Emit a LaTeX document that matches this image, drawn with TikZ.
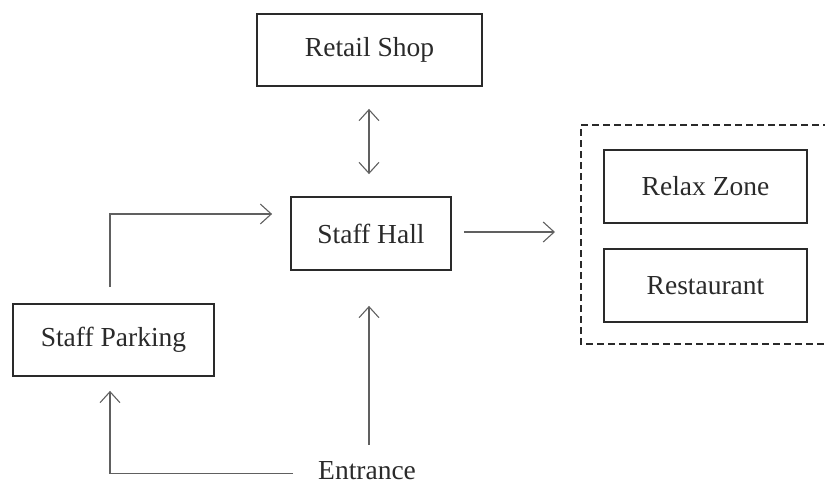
\documentclass[tikz,border=0pt]{standalone}
\usepackage{fontspec}
\setmainfont{Liberation Serif}
\usetikzlibrary{arrows.meta}

\definecolor{ink}{HTML}{2A2A2A}
\definecolor{wire}{HTML}{606060}

\tikzset{
  room/.style={draw=ink, line width=1.8pt, text=ink, inner sep=0pt,
               font=\fontsize{27.5}{30}\selectfont},
  label/.style={text=ink, inner sep=0pt, font=\fontsize{27.5}{30}\selectfont},
  flow/.style={draw=wire, line width=1.1pt,
               -{Straight Barb[length=11pt,width=20pt,line width=1.1pt]}},
  twoway/.style={draw=wire, line width=1.1pt,
               {Straight Barb[length=11pt,width=20pt,line width=1.1pt]}-{Straight Barb[length=11pt,width=20pt,line width=1.1pt]}},
  zone/.style={draw=ink, line width=1.4pt, dash pattern=on 7pt off 4pt}
}

\begin{document}
\begin{tikzpicture}[x=1pt,y=-1pt]
  \useasboundingbox (0,0) rectangle (825,483);

  % rooms
  \node[room, minimum width=225pt, minimum height=72pt] (shop)    at (369.5,50)   {Retail Shop};
  \node[room, minimum width=160pt, minimum height=73pt] (hall)    at (371,233.5)  {Staff Hall};
  \node[room, minimum width=201pt, minimum height=72pt] (parking) at (113.5,340)  {Staff Parking};
  \node[room, minimum width=203pt, minimum height=73pt] (relax)   at (705.5,186.5){Relax Zone};
  \node[room, minimum width=203pt, minimum height=73pt] (rest)    at (705.5,285.5){Restaurant};
  \node[label, anchor=base west] (entrance) at (318,479) {Entrance};

  % dashed zone around relax zone and restaurant, open to the right
  \coordinate (zoneTL) at (581,125);
  \coordinate (zoneBL) at (581,344);
  \draw[zone] (zoneTL -| 830,0) -- (zoneTL) -- (zoneBL) -- (zoneBL -| 830,0);

  % connectors
  \draw[twoway, shorten <=22pt, shorten >=22pt]
    ([xshift=-0.5pt]shop.south) -- ([xshift=-2pt]hall.north);
  \draw[flow, shorten <=12pt, shorten >=26pt]
    ([yshift=1.5pt]hall.east) -- ([yshift=1.5pt]hall.east -| zoneTL);
  \draw[flow, shorten <=16pt, shorten >=18pt]
    ([xshift=-3.5pt]parking.north) |- ([yshift=19.5pt]hall.west);
  \draw[flow, shorten <=25pt, shorten >=14pt]
    ([yshift=-3pt]entrance.west) -| ([xshift=-3.5pt]parking.south);
  \draw[flow, shorten <=16pt, shorten >=35pt]
    (entrance.north -| 369,0) -- (hall.south -| 369,0);
\end{tikzpicture}
\end{document}
